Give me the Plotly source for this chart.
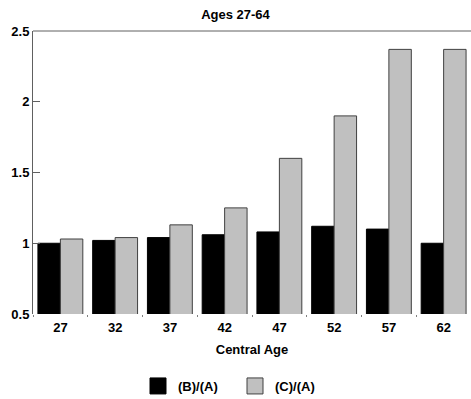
import plotly.graph_objects as go

ages = ["27", "32", "37", "42", "47", "52", "57", "62"]
b_over_a = [1.00, 1.02, 1.04, 1.06, 1.08, 1.12, 1.10, 1.00]
c_over_a = [1.03, 1.04, 1.13, 1.25, 1.60, 1.90, 2.37, 2.37]
series_names = ["(B)/(A)", "(C)/(A)"]
y_ticks = [0.5, 1, 1.5, 2, 2.5]
y_tick_text = ["0.5", "1", "1.5", "2", "2.5"]

FONT = "Liberation Sans, Arial, sans-serif"
FS = 13
fig = go.Figure()
fig.add_trace(go.Bar(x=ages, y=b_over_a, name=series_names[0], showlegend=False,
                     marker=dict(color="black", line=dict(color="black", width=1))))
fig.add_trace(go.Bar(x=ages, y=c_over_a, name=series_names[1], showlegend=False,
                     marker=dict(color="#c0c0c0", line=dict(color="#404040", width=1))))
# legend entries with large square symbols
fig.add_trace(go.Scatter(x=[None], y=[None], mode="markers", name=f"<b>{series_names[0]}</b>",
                         marker=dict(symbol="square", size=16, color="black",
                                     line=dict(color="black", width=1))))
fig.add_trace(go.Scatter(x=[None], y=[None], mode="markers", name=f"<b>{series_names[1]}</b>",
                         marker=dict(symbol="square", size=16, color="#c0c0c0",
                                     line=dict(color="#404040", width=1))))

fig.update_layout(
    width=471, height=399,
    margin=dict(l=33, r=0, t=31, b=85),
    paper_bgcolor="white", plot_bgcolor="white",
    barmode="group", bargap=0.18, bargroupgap=0,
    font=dict(family=FONT, size=FS, color="black"),
    title=dict(text="<b>Ages 27-64</b>", x=0.5, xref="container", xanchor="center",
               y=1 - 14 / 399, yanchor="middle", font=dict(size=FS)),
    showlegend=True,
    legend=dict(orientation="h", xref="container", yref="container",
                x=0.293, xanchor="left", y=1 - 386 / 399, yanchor="middle",
                font=dict(size=FS), entrywidth=52, tracegroupgap=0),
    xaxis=dict(type="category", tickfont=dict(size=FS), tickprefix="<b>", ticksuffix="</b>",
               title=dict(text="<b>Central Age</b>", font=dict(size=FS), standoff=10),
               showline=False, ticks="outside", tickson="boundaries", ticklen=2,
               tickcolor="#808080", showgrid=False, zeroline=False, ticklabelstandoff=4),
    yaxis=dict(range=[0.5, 2.5], tickvals=y_ticks, ticktext=[f"<b>{t}</b>" for t in y_tick_text],
               showline=True, linecolor="#606060", linewidth=1,
               ticks="inside", ticklen=7, tickcolor="#606060",
               showgrid=False, zeroline=False, tickfont=dict(size=FS)),
    shapes=[dict(type="line", xref="paper", yref="paper", x0=0, x1=1, y0=1, y1=1,
                 line=dict(color="#606060", width=1))],
)
fig.write_html("out.html")
